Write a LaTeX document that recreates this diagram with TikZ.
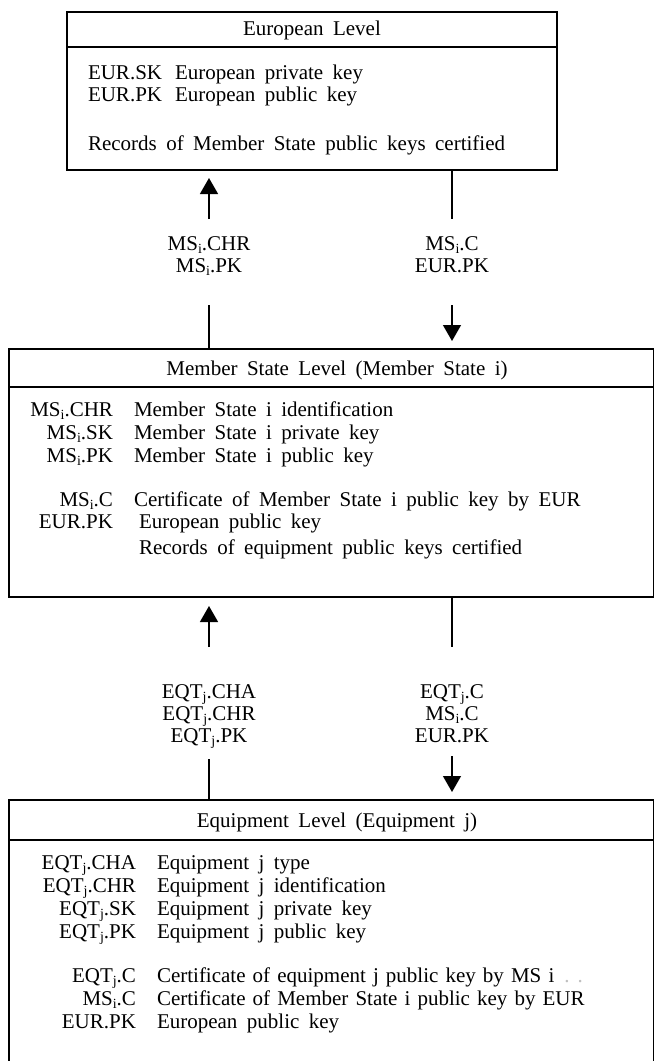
\documentclass[tikz,border=0pt]{standalone}
\usepackage{fontspec}
\setmainfont{Liberation Serif}[WordSpace=1.8]
\newfontfamily\tightfont{Liberation Serif}[WordSpace=1.35]
\usetikzlibrary{arrows.meta}
\newcommand\sbs[1]{\raisebox{-0.4ex}{\fontsize{14pt}{14pt}\selectfont #1}}
\begin{document}
\begin{tikzpicture}[x=1pt,y=-1pt,
  font=\fontsize{21pt}{23pt}\selectfont,
  box/.style={draw, line width=1.5pt, inner sep=0pt, outer sep=0pt},
  txt/.style={inner sep=0pt, outer sep=0pt},
  conn/.style={line width=1.3pt},
  arr/.style={line width=1.3pt, -{Triangle[width=18pt,length=16pt]}}]
\useasboundingbox (0,0) rectangle (655,1061);

% ---------- boxes ----------
\node[box, minimum width=490pt, minimum height=158pt] (eur) at (312,91) {};
\node[box, minimum width=644.5pt, minimum height=248pt] (ms) at (331.25,473) {};
\node[box, minimum width=644.5pt, minimum height=280pt] (eqt) at (331.25,940) {};
\draw[line width=1.5pt] (67,47) -- (557,47);
\draw[line width=1.5pt] (9,387) -- (653.5,387);
\draw[line width=1.5pt] (9,840) -- (653.5,840);

% ---------- European level ----------
\node[txt, anchor=base] (eurt) at (312,35) {European Level};
\node[txt, anchor=base west] (e1l) at (88,79) {EUR.SK};
\node[txt, anchor=base west] (e1r) at (175,79) {European private key};
\node[txt, anchor=base west] (e2l) at (88,101) {EUR.PK};
\node[txt, anchor=base west] (e2r) at (175,101) {European public key};
\node[txt, anchor=base west] (e3) at (88,150) {Records of Member State public keys certified};

% ---------- Member State level ----------
\node[txt, anchor=base] (mst) at (337,375) {Member State Level (Member State i)};
\node[txt, anchor=base east] (m1l) at (113,416) {MS\sbs{i}.CHR};
\node[txt, anchor=base west] (m1r) at (134,416) {Member State i identification};
\node[txt, anchor=base east] (m2l) at (113,439) {MS\sbs{i}.SK};
\node[txt, anchor=base west] (m2r) at (134,439) {Member State i private key};
\node[txt, anchor=base east] (m3l) at (113,462) {MS\sbs{i}.PK};
\node[txt, anchor=base west] (m3r) at (134,462) {Member State i public key};
\node[txt, anchor=base east] (m4l) at (113,506) {MS\sbs{i}.C};
\node[txt, anchor=base west] (m4r) at (134,506) {Certificate of Member State i public key by EUR};
\node[txt, anchor=base east] (m5l) at (113,528) {EUR.PK};
\node[txt, anchor=base west] (m5r) at (139,528) {European public key};
\node[txt, anchor=base west] (m6) at (139,554) {Records of equipment public keys certified};

% ---------- Equipment level ----------
\node[txt, anchor=base] (eqtt) at (337,827) {Equipment Level (Equipment j)};
\node[txt, anchor=base east] (q1l) at (136,869) {EQT\sbs{j}.CHA};
\node[txt, anchor=base west] (q1r) at (157,869) {Equipment j type};
\node[txt, anchor=base east] (q2l) at (136,892) {EQT\sbs{j}.CHR};
\node[txt, anchor=base west] (q2r) at (157,892) {Equipment j identification};
\node[txt, anchor=base east] (q3l) at (136,915) {EQT\sbs{j}.SK};
\node[txt, anchor=base west] (q3r) at (157,915) {Equipment j private key};
\node[txt, anchor=base east] (q4l) at (136,938) {EQT\sbs{j}.PK};
\node[txt, anchor=base west] (q4r) at (157,938) {Equipment j public key};
\node[txt, anchor=base east] (q5l) at (136,982) {EQT\sbs{j}.C};
\node[txt, anchor=base west, font=\fontsize{21pt}{23pt}\tightfont] (q5r) at (157,982) {Certificate of equipment j public key by MS i};
\node[txt, anchor=base west, text=gray!50] (q5d) at (q5r.base east) {\hspace{10pt}.\hspace{8pt}.};
\node[txt, anchor=base east] (q6l) at (136,1005) {MS\sbs{i}.C};
\node[txt, anchor=base west, font=\fontsize{21pt}{23pt}\tightfont] (q6r) at (157,1005) {Certificate of Member State i public key by EUR};
\node[txt, anchor=base east] (q7l) at (136,1028) {EUR.PK};
\node[txt, anchor=base west] (q7r) at (157,1028) {European public key};

% ---------- flows between European and Member State ----------
\node[txt, anchor=base] (u1a) at (209,250) {MS\sbs{i}.CHR};
\node[txt, anchor=base] (u1b) at (209,272) {MS\sbs{i}.PK};
\node[txt, anchor=base] (d1a) at (452,250) {MS\sbs{i}.C};
\node[txt, anchor=base] (d1b) at (452,272) {EUR.PK};
\coordinate (u1t) at (209,219);
\coordinate (u1s) at (209,305);
\coordinate (d1t) at (452,219);
\coordinate (d1s) at (452,305);
\draw[arr, shorten >=8pt] (u1t) -- (eur.south -| u1t);
\draw[conn] (u1s) -- (ms.north -| u1s);
\draw[conn] (eur.south -| d1t) -- (d1t);
\draw[arr, shorten >=8pt] (d1s) -- (ms.north -| d1s);

% ---------- flows between Member State and Equipment ----------
\node[txt, anchor=base] (u2a) at (209,698) {EQT\sbs{j}.CHA};
\node[txt, anchor=base] (u2b) at (209,720) {EQT\sbs{j}.CHR};
\node[txt, anchor=base] (u2c) at (209,742) {EQT\sbs{j}.PK};
\node[txt, anchor=base] (d2a) at (452,698) {EQT\sbs{j}.C};
\node[txt, anchor=base] (d2b) at (452,720) {MS\sbs{i}.C};
\node[txt, anchor=base] (d2c) at (452,742) {EUR.PK};
\coordinate (u2t) at (209,647);
\coordinate (u2s) at (209,759);
\coordinate (d2t) at (452,647);
\coordinate (d2s) at (452,756);
\draw[arr, shorten >=9pt] (u2t) -- (ms.south -| u2t);
\draw[conn] (u2s) -- (eqt.north -| u2s);
\draw[conn] (ms.south -| d2t) -- (d2t);
\draw[arr, shorten >=8pt] (d2s) -- (eqt.north -| d2s);
\end{tikzpicture}
\end{document}
